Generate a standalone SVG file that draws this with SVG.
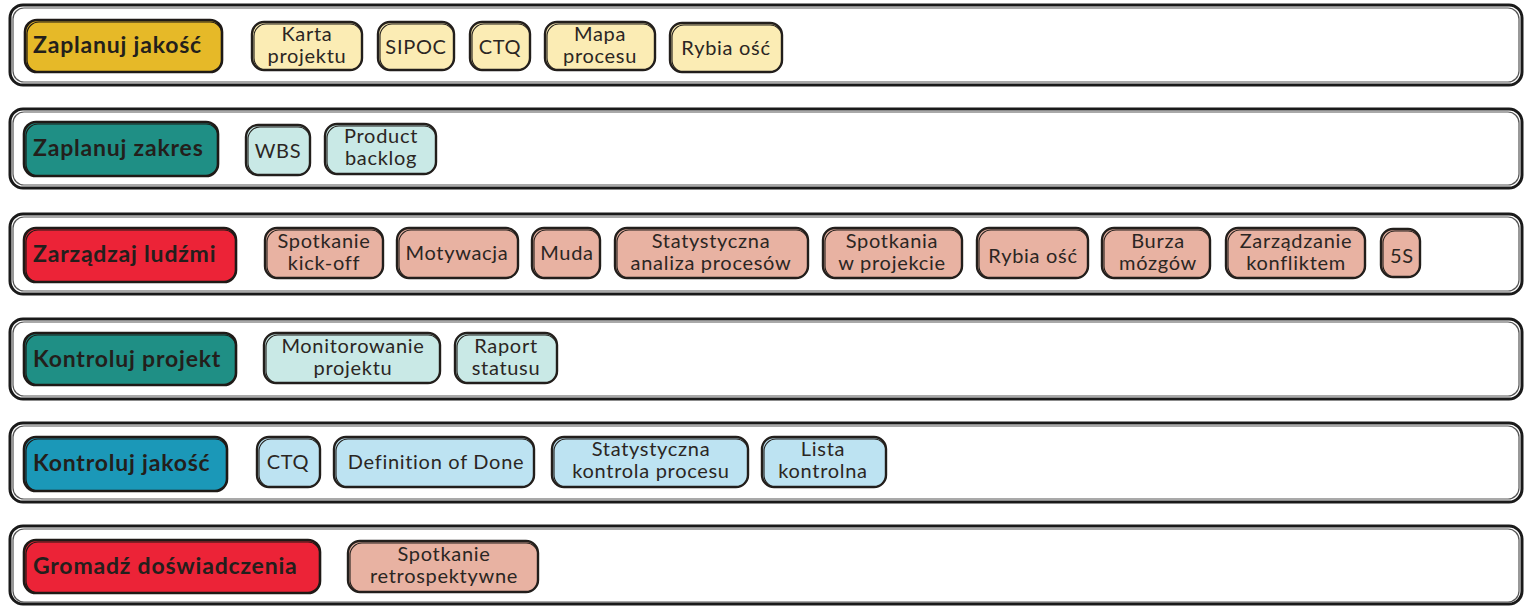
<svg xmlns="http://www.w3.org/2000/svg" width="1529" height="606" viewBox="0 0 1529 606">
<style>
.lane{fill:#fff;stroke:#1a1a1a;stroke-width:3}
.lane2{fill:none;stroke:#555;stroke-width:1.2}
.h{stroke:#1f1a17;stroke-width:2.6}
.h2{fill:none;stroke:#1f1a17;stroke-width:1.2}
.i{stroke:#231f1c;stroke-width:2.4}
.i2{fill:none;stroke:#231f1c;stroke-width:1.1}
.ht{font-family:Lato,"Liberation Sans",sans-serif;font-weight:bold;font-size:23px;letter-spacing:0.8px;fill:#231f1c;text-anchor:start}
.it{font-family:Lato,"Liberation Sans",sans-serif;font-size:20px;letter-spacing:0.7px;fill:#2b2623;text-anchor:middle}
.yel{fill:#e6b928}.teal{fill:#1f8f85}.red{fill:#ec2337}.blue{fill:#1b98b8}
.pyel{fill:#fbecb4}.pteal{fill:#c9e9e6}.psal{fill:#e8b2a2}.pblue{fill:#bde3f2}
</style>
<g id="lanes">
<rect class="lane" x="10" y="5" width="1512" height="80" rx="13"/><rect class="lane2" x="13" y="8" width="1506" height="74" rx="11"/>
<rect class="lane" x="10" y="109" width="1512" height="79" rx="13"/><rect class="lane2" x="13" y="112" width="1506" height="73" rx="11"/>
<rect class="lane" x="10" y="214" width="1512" height="80" rx="13"/><rect class="lane2" x="13" y="217" width="1506" height="74" rx="11"/>
<rect class="lane" x="10" y="319" width="1512" height="80" rx="13"/><rect class="lane2" x="13" y="322" width="1506" height="74" rx="11"/>
<rect class="lane" x="10" y="423" width="1512" height="79" rx="13"/><rect class="lane2" x="13" y="426" width="1506" height="73" rx="11"/>
<rect class="lane" x="10" y="526" width="1512" height="78" rx="13"/><rect class="lane2" x="13" y="529" width="1506" height="73" rx="11"/>
</g>
<g id="headers">
<g id="h1"><rect class="h yel" x="25" y="20" width="197" height="52" rx="12"/><rect class="h2" x="27" y="22" width="195" height="50" rx="12"/><text class="ht" x="33" y="53">Zaplanuj jakość</text></g>
<g id="h2"><rect class="h teal" x="24" y="122" width="194" height="54" rx="12"/><rect class="h2" x="26" y="124" width="192" height="52" rx="12"/><text class="ht" x="33" y="156">Zaplanuj zakres</text></g>
<g id="h3"><rect class="h red" x="24" y="228" width="212" height="54" rx="12"/><rect class="h2" x="26" y="230" width="210" height="52" rx="12"/><text class="ht" x="33" y="262">Zarządzaj ludźmi</text></g>
<g id="h4"><rect class="h teal" x="24" y="333" width="212" height="52" rx="12"/><rect class="h2" x="26" y="335" width="210" height="50" rx="12"/><text class="ht" x="33" y="367">Kontroluj projekt</text></g>
<g id="h5"><rect class="h blue" x="24" y="437" width="203" height="54" rx="12"/><rect class="h2" x="26" y="439" width="201" height="52" rx="12"/><text class="ht" x="33" y="471">Kontroluj jakość</text></g>
<g id="h6"><rect class="h red" x="24" y="540" width="296" height="53" rx="12"/><rect class="h2" x="26" y="542" width="294" height="51" rx="12"/><text class="ht" x="33" y="574">Gromadź doświadczenia</text></g>
</g>
<g id="items">
<g id="i1a"><rect class="i pyel" x="252" y="22" width="110" height="48" rx="12"/><rect class="i2" x="254" y="24" width="108" height="46" rx="12"/><text class="it" x="307" y="41">Karta</text><text class="it" x="307" y="63">projektu</text></g>
<g id="i1b"><rect class="i pyel" x="378" y="22" width="76" height="48" rx="12"/><rect class="i2" x="380" y="24" width="74" height="46" rx="12"/><text class="it" x="416" y="54">SIPOC</text></g>
<g id="i1c"><rect class="i pyel" x="470" y="22" width="60" height="48" rx="12"/><rect class="i2" x="472" y="24" width="58" height="46" rx="12"/><text class="it" x="500" y="54">CTQ</text></g>
<g id="i1d"><rect class="i pyel" x="545" y="22" width="110" height="48" rx="12"/><rect class="i2" x="547" y="24" width="108" height="46" rx="12"/><text class="it" x="600" y="41">Mapa</text><text class="it" x="600" y="63">procesu</text></g>
<g id="i1e"><rect class="i pyel" x="670" y="23" width="112" height="49" rx="12"/><rect class="i2" x="672" y="25" width="110" height="47" rx="12"/><text class="it" x="726" y="55">Rybia ość</text></g>

<g id="i2a"><rect class="i pteal" x="246" y="125" width="64" height="50" rx="12"/><rect class="i2" x="248" y="127" width="62" height="48" rx="12"/><text class="it" x="278" y="158">WBS</text></g>
<g id="i2b"><rect class="i pteal" x="325" y="124" width="111" height="50" rx="12"/><rect class="i2" x="327" y="126" width="109" height="48" rx="12"/><text class="it" x="381" y="143">Product</text><text class="it" x="381" y="165">backlog</text></g>

<g id="i3a"><rect class="i psal" x="265" y="228" width="118" height="50" rx="12"/><rect class="i2" x="267" y="230" width="116" height="48" rx="12"/><text class="it" x="324" y="248">Spotkanie</text><text class="it" x="324" y="270">kick-off</text></g>
<g id="i3b"><rect class="i psal" x="397" y="228" width="121" height="50" rx="12"/><rect class="i2" x="399" y="230" width="119" height="48" rx="12"/><text class="it" x="457" y="260">Motywacja</text></g>
<g id="i3c"><rect class="i psal" x="532" y="228" width="68" height="50" rx="12"/><rect class="i2" x="534" y="230" width="66" height="48" rx="12"/><text class="it" x="567" y="260">Muda</text></g>
<g id="i3d"><rect class="i psal" x="615" y="228" width="193" height="50" rx="12"/><rect class="i2" x="617" y="230" width="191" height="48" rx="12"/><text class="it" x="711" y="248">Statystyczna</text><text class="it" x="711" y="270">analiza procesów</text></g>
<g id="i3e"><rect class="i psal" x="823" y="228" width="139" height="50" rx="12"/><rect class="i2" x="825" y="230" width="137" height="48" rx="12"/><text class="it" x="892" y="248">Spotkania</text><text class="it" x="892" y="270">w projekcie</text></g>
<g id="i3f"><rect class="i psal" x="977" y="228" width="111" height="50" rx="12"/><rect class="i2" x="979" y="230" width="109" height="48" rx="12"/><text class="it" x="1033" y="263">Rybia ość</text></g>
<g id="i3g"><rect class="i psal" x="1102" y="228" width="108" height="50" rx="12"/><rect class="i2" x="1104" y="230" width="106" height="48" rx="12"/><text class="it" x="1158" y="248">Burza</text><text class="it" x="1158" y="270">mózgów</text></g>
<g id="i3h"><rect class="i psal" x="1226" y="228" width="139" height="50" rx="12"/><rect class="i2" x="1228" y="230" width="137" height="48" rx="12"/><text class="it" x="1296" y="248">Zarządzanie</text><text class="it" x="1296" y="270">konfliktem</text></g>
<g id="i3i"><rect class="i psal" x="1381" y="229" width="39" height="48" rx="12"/><rect class="i2" x="1383" y="231" width="37" height="46" rx="12"/><text class="it" x="1402" y="263">5S</text></g>

<g id="i4a"><rect class="i pteal" x="264" y="333" width="176" height="50" rx="12"/><rect class="i2" x="266" y="335" width="174" height="48" rx="12"/><text class="it" x="353" y="353">Monitorowanie</text><text class="it" x="353" y="375">projektu</text></g>
<g id="i4b"><rect class="i pteal" x="455" y="333" width="102" height="50" rx="12"/><rect class="i2" x="457" y="335" width="100" height="48" rx="12"/><text class="it" x="506" y="353">Raport</text><text class="it" x="506" y="375">statusu</text></g>

<g id="i5a"><rect class="i pblue" x="257" y="437" width="63" height="50" rx="12"/><rect class="i2" x="259" y="439" width="61" height="48" rx="12"/><text class="it" x="288" y="469">CTQ</text></g>
<g id="i5b"><rect class="i pblue" x="334" y="437" width="200" height="50" rx="12"/><rect class="i2" x="336" y="439" width="198" height="48" rx="12"/><text class="it" x="436" y="469">Definition of Done</text></g>
<g id="i5c"><rect class="i pblue" x="552" y="437" width="196" height="50" rx="12"/><rect class="i2" x="554" y="439" width="194" height="48" rx="12"/><text class="it" x="651" y="456">Statystyczna</text><text class="it" x="651" y="478">kontrola procesu</text></g>
<g id="i5d"><rect class="i pblue" x="762" y="437" width="124" height="50" rx="12"/><rect class="i2" x="764" y="439" width="122" height="48" rx="12"/><text class="it" x="823" y="456">Lista</text><text class="it" x="823" y="478">kontrolna</text></g>

<g id="i6a"><rect class="i psal" x="348" y="541" width="190" height="51" rx="12"/><rect class="i2" x="350" y="543" width="188" height="49" rx="12"/><text class="it" x="444" y="561">Spotkanie</text><text class="it" x="444" y="583">retrospektywne</text></g>
</g>
</svg>
